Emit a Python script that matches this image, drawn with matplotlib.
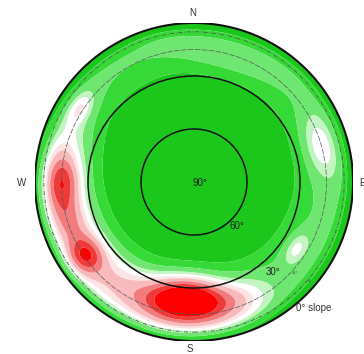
import numpy as np
import matplotlib
matplotlib.use("Agg")
import matplotlib.pyplot as plt
from matplotlib.patches import Circle
from matplotlib.colors import ListedColormap, BoundaryNorm

# ---- data ----
# density blobs: azimuth (deg, clockwise from N), slope (deg), weight, tangential/radial spread
blob_az     = [183, 270, 236, 252, 74, 123, 303, 15, 300, 280, 255, 230, 205, 180, 158]
blob_slope  = [24, 15, 16, 16, 16, 21, 13, 19, 16, 18, 18, 18, 19, 19, 18]
blob_weight = [6.2, 3.5, 3.3, 1.2, 2.0, 1.8, 1.6, 0.8, 0.5, 1.5, 2.0, 2.0, 2.1, 2.1, 1.6]
blob_st     = [0.17, 0.13, 0.08, 0.10, 0.15, 0.08, 0.08, 0.30, 0.15, 0.2, 0.2, 0.2, 0.2, 0.2, 0.15]
blob_sr     = [0.10, 0.075, 0.075, 0.07, 0.075, 0.045, 0.045, 0.07, 0.06, 0.12, 0.13, 0.13, 0.13, 0.12, 0.10]

# radial background: centre plateau (shifted north), outer rim, offset
centre_weight, centre_width, centre_shift = -2.4, 0.70, 0.06
rim_weight, rim_width = -2.0, 0.07
background = -1.65

levels = [-10, -3, -2, -1, -0.35, 0.35, 1, 2, 3, 4, 20]
colors = ["#1cc71c", "#36da36", "#6fe66f", "#c2f5c2", "#ffffff",
          "#fde4e4", "#f8baba", "#f27c7c", "#ef3a3a", "#ff0000"]

slope_rings = [30, 60]
thin_rings = [5, 15]

# ---- build field ----
def pos(az, slope):
    r = (90 - slope) / 90.0
    a = np.deg2rad(az)
    return r * np.sin(a), r * np.cos(a)

n = 500
xs = np.linspace(-1.02, 1.02, n)
X, Y = np.meshgrid(xs, xs)
R = np.hypot(X, Y)
Rc = np.hypot(X, Y - centre_shift)
Z = background + centre_weight * np.exp(-(Rc / centre_width) ** 6) \
    + rim_weight * np.exp(-((R - 1.0) / rim_width) ** 2)
for az, sl, w, st, sr in zip(blob_az, blob_slope, blob_weight, blob_st, blob_sr):
    cx, cy = pos(az, sl)
    a = np.deg2rad(az)
    ur = np.array([np.sin(a), np.cos(a)])
    ut = np.array([np.cos(a), -np.sin(a)])
    dx, dy = X - cx, Y - cy
    dr = dx * ur[0] + dy * ur[1]
    dt = dx * ut[0] + dy * ut[1]
    Z = Z + w * np.exp(-0.5 * ((dt / st) ** 2 + (dr / sr) ** 2))

fig = plt.figure(figsize=(3.64, 3.54), dpi=100)
ax = fig.add_axes([35 / 364, 13 / 354, 318 / 364, 318 / 354])
ax.set_xlim(-1, 1)
ax.set_ylim(-1, 1)
ax.set_aspect("equal")
ax.axis("off")

cmap = ListedColormap(colors)
norm = BoundaryNorm(levels, cmap.N)
cs = ax.contourf(X, Y, Z, levels=levels, cmap=cmap, norm=norm, antialiased=True)
clip = Circle((0, 0), 1.0, transform=ax.transData, facecolor="none", edgecolor="none")
ax.add_patch(clip)
cs.set_clip_path(clip)

ax.add_patch(Circle((0, 0), 1.0, fill=False, ec="#111111", lw=1.5))
for s in slope_rings:
    ax.add_patch(Circle((0, 0), (90 - s) / 90, fill=False, ec="#111111", lw=1.1))
ax.add_patch(Circle((0, 0), (90 - thin_rings[0]) / 90, fill=False, ec="#555555",
                    lw=0.6, ls=(0, (5, 2, 1, 2))))
ax.add_patch(Circle((0, 0), (90 - thin_rings[1]) / 90, fill=False, ec="#555555",
                    lw=0.5, ls=(0, (8, 2))))

tk = dict(fontsize=7, color="#333333", family="Liberation Sans", ha="center", va="center", clip_on=False)
ax.text(-0.006, 1.065, "N", **tk)
ax.text(1.057, -0.006, "E", **tk)
ax.text(-0.025, -1.05, "S", **tk)
ax.text(-1.082, -0.006, "W", **tk)
nk = dict(tk, color="#222222")
ax.text(0.04, -0.006, "90°", **nk)
ax.text(0.27, -0.277, "60°", **nk)
ax.text(0.495, -0.566, "30°", **nk)
ax.text(0.64, -0.79, "0° slope", fontsize=7, color="#333333", family="Liberation Sans",
        ha="left", va="center", clip_on=False)
ax.text(0.636, -0.572, "15°", fontsize=2.5, color="#333333", ha="center", va="center")
ax.text(0.73, -0.62, "5°", fontsize=2.5, color="#333333", ha="center", va="center")

fig.savefig("out.png", dpi=100)
